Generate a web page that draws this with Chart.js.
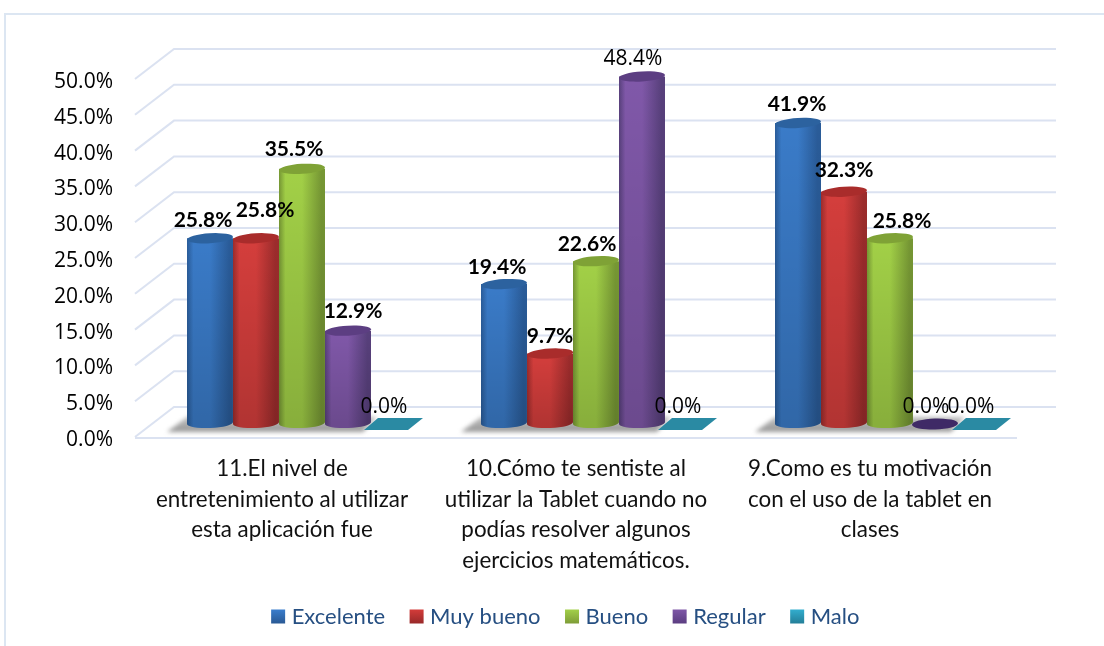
<!DOCTYPE html>
<html><head><meta charset="utf-8">
<style>html,body{margin:0;padding:0;background:#fff}#w{width:1104px;height:646px;position:relative;overflow:hidden}</style>
<script src="https://cdn.jsdelivr.net/npm/chart.js@4"></script>
</head><body><div id="w"><canvas id="c" width="1104" height="646"></canvas></div>
<script>
const categories = [
  ["11.El nivel de","entretenimiento al utilizar","esta aplicación fue"],
  ["10.Cómo te sentiste al","utilizar la Tablet cuando no","podías resolver algunos","ejercicios matemáticos."],
  ["9.Como es tu motivación","con el uso de la tablet en","clases"]
];
const excelente = [25.8, 19.4, 41.9];
const muyBueno  = [25.8, 9.7, 32.3];
const bueno     = [35.5, 22.6, 25.8];
const regular   = [12.9, 48.4, 0.0];
const malo      = [0.0, 0.0, 0.0];

const TEXT = 'Lato';
const NUM = '"Open Sans"';
// per-series paint: body centre, body edge, cap
const paint = [
 {mid:'#3a7bc8',edge:'#2a5c99',cap:'#2c629f',sw0:'#3b7fcf',sw1:'#2a5a96'},
 {mid:'#d43e3c',edge:'#9c2c2c',cap:'#a92c2b',sw0:'#d63c3a',sw1:'#9a2a2a'},
 {mid:'#a2d047',edge:'#769734',cap:'#7fa236',sw0:'#a4d24a',sw1:'#7f9e38'},
 {mid:'#8058a9',edge:'#58407c',cap:'#5c3e82',sw0:'#8058a9',sw1:'#5c3e82'},
 {mid:'#2f9cbc',edge:'#217a93',cap:'#2a8aa3',sw0:'#33afd0',sw1:'#24809a'}
];
// manual label placement in the original, relative to the top of each bar
const labelNudgeX = [[-7,-7,-1],[9,0,0],[-8,-9,12],[5,-9,-10],[-10,-10,-11]];
const labelNudgeY = [[-18,-17,-19],[-28,-17,-21],[-20,-17,-17],[-19,-17,-16],[-16,-16,-16]];
const labelBold   = [[1,1,1],[1,1,1],[1,1,1],[1,0,0],[0,0,0]];

const DX=39, DY=30, MIDX=20, MIDY=14, RY=5;

const scene = {
  id:'scene',
  afterLayout(chart){
    const l=chart.legend;
    l.left+=59; l.right+=59;
    const h=l.height; l.top=607-h/2; l.bottom=l.top+h;
  },
  beforeDraw(chart){
    const c=chart.ctx; c.save();
    c.fillStyle='#fff'; c.fillRect(0,0,1104,646);
    c.strokeStyle='#dce6f2'; c.lineWidth=2;
    c.beginPath(); c.moveTo(5,646); c.lineTo(5,14); c.lineTo(1104,14); c.stroke();
    c.restore();
  },
  beforeDatasetsDraw(chart){
    const c=chart.ctx,y=chart.scales.y,a=chart.chartArea;
    c.save(); c.strokeStyle='#dbe2f1'; c.lineWidth=2;
    y.ticks.forEach(t=>{
      const py=y.getPixelForValue(t.value);
      c.beginPath(); c.moveTo(a.left,py); c.lineTo(a.left+DX,py-DY); c.lineTo(a.right+DX,py-DY); c.stroke();
    });
    const b=y.getPixelForValue(0);
    c.beginPath(); c.moveTo(a.left,b+1); c.lineTo(a.right,b+1); c.stroke();
    // floor shadows
    chart.data.labels.forEach((_,i)=>{
      const bars=[0,1,2,3].map(d=>chart.getDatasetMeta(d).data[i]);
      const x0=bars[0].x+MIDX-bars[0].width/2;
      const x1=bars[3].x+MIDX+bars[3].width/2;
      const yb=b-MIDY;
      c.save(); c.filter='blur(2px)'; 
      const g=c.createLinearGradient(0,yb-5,0,yb+9);
      g.addColorStop(0,'#bdbdbd'); g.addColorStop(1,'#979797');
      c.fillStyle=g;
      c.beginPath(); c.moveTo(x0,yb-6); c.lineTo(x1+6,yb-6); c.lineTo(x1-8,yb+9); c.lineTo(x0-20,yb+9); c.closePath(); c.fill();
      c.restore();
    });
    c.restore();
  },
  beforeDatasetDraw(chart,args){
    const c=chart.ctx,d=args.index,p=paint[d];
    chart.getDatasetMeta(d).data.forEach((el,i)=>{
      const v=chart.data.datasets[d].data[i];
      const cx=el.x+MIDX, w=el.width, top=el.y-MIDY, base=el.base-MIDY, rx=w/2;
      c.save();
      if(v===0){
        if(chart.data.datasets[d].flatZero){
          c.fillStyle=p.cap; c.beginPath();
          c.moveTo(cx-16,base-5); c.lineTo(cx+29,base-5); c.lineTo(cx+14,base+7); c.lineTo(cx-30,base+7); c.closePath(); c.fill();
        } else {
          c.fillStyle='#3f2a66'; c.beginPath(); c.ellipse(cx-1,base+1,rx,RY+0.5,-0.03,0,Math.PI*2); c.fill();
        }
        c.restore(); return;
      }
      const g=c.createLinearGradient(cx-rx,0,cx+rx,0);
      g.addColorStop(0,p.edge); g.addColorStop(0.14,p.mid); g.addColorStop(0.5,p.mid); g.addColorStop(0.92,p.edge); g.addColorStop(1,p.edge);
      c.beginPath();
      c.moveTo(cx-rx,top); c.lineTo(cx-rx,base); c.ellipse(cx,base,rx,RY,-0.04,Math.PI,0,true); c.lineTo(cx+rx,top); c.closePath();
      c.fillStyle=g; c.fill();
      const s=c.createLinearGradient(0,top,0,base);
      s.addColorStop(0,'rgba(0,0,0,0)'); s.addColorStop(1,'rgba(0,0,0,0.16)');
      c.fillStyle=s; c.fill();
      c.beginPath(); c.ellipse(cx,top,rx,RY,-0.06,0,Math.PI*2); c.fillStyle=p.cap; c.fill();
      c.restore();
    });
    return false;
  },
  afterDatasetsDraw(chart){
    const c=chart.ctx; c.save(); c.textAlign='center'; c.textBaseline='middle'; c.fillStyle='#000';
    chart.data.datasets.forEach((ds,d)=>{
      chart.getDatasetMeta(d).data.forEach((el,i)=>{
        c.font=labelBold[d][i]?'bold 21px '+TEXT:'21px '+NUM;
        c.fillText(ds.data[i].toFixed(1)+'%', el.x+MIDX+labelNudgeX[d][i], el.y-MIDY+labelNudgeY[d][i]);
      });
    });
    c.restore();
  }
};

const names=['Excelente','Muy bueno','Bueno','Regular','Malo'];
const series=[excelente,muyBueno,bueno,regular,malo];
new Chart(document.getElementById('c'),{
  type:'bar',
  data:{labels:categories,datasets:series.map((s,i)=>({label:names[i],data:s,backgroundColor:paint[i].mid,flatZero:i===4,
    barPercentage:1,categoryPercentage:230/294}))},
  options:{
    responsive:false,animation:false,
    layout:{padding:{left:0,right:87,top:79,bottom:0}},
    scales:{
      y:{min:0,max:50,border:{display:false},grid:{display:false,drawTicks:false},
        afterFit(s){s.width=135},
        ticks:{stepSize:5,padding:22,labelOffset:3,color:'#000',font:{family:NUM,size:21},callback:v=>v.toFixed(1)+'%'}},
      x:{border:{display:false},grid:{display:false,drawTicks:false},
        afterFit(s){s.height=646-437-(s.chart.legend?s.chart.legend.height:0)},
        ticks:{maxRotation:0,autoSkip:false,padding:17,color:'#111',font:{family:TEXT,size:22.4,lineHeight:1.36}}}
    },
    plugins:{
      tooltip:{enabled:false},
      legend:{position:'bottom',labels:{boxWidth:5,boxHeight:5,padding:29,color:'#264f82',font:{family:TEXT,size:22},
        generateLabels(chart){
          return Chart.defaults.plugins.legend.labels.generateLabels(chart).map((it,i)=>{
            const g=chart.ctx.createLinearGradient(0,609,0,623);
            g.addColorStop(0,paint[i].sw0); g.addColorStop(1,paint[i].sw1);
            it.fillStyle=g; it.strokeStyle=g; it.lineWidth=9; it.lineJoin='miter'; it.lineCap='butt'; it.lineDash=[]; return it;
          });
        }}}
    }
  },
  plugins:[scene]
});
</script></body></html>
